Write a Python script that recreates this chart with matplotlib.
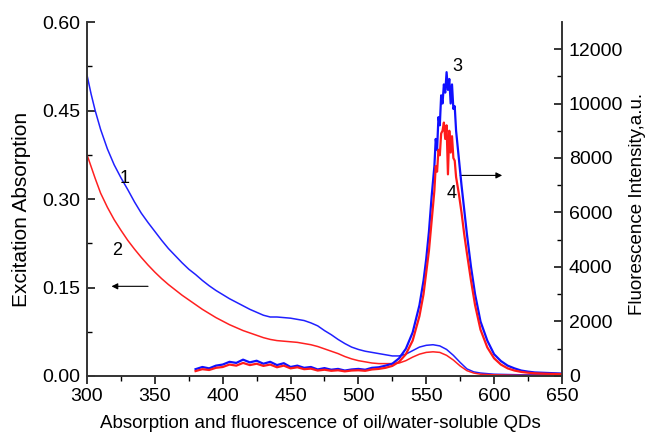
import numpy as np
import matplotlib.pyplot as plt
from matplotlib.ticker import MultipleLocator

plt.rcParams['font.family'] = ['Liberation Sans', 'DejaVu Sans']

#Absorption curves (left axis)
wl_abs = [300, 303, 306, 310, 315, 320, 325, 330, 335, 340, 345, 350, 355, 360, 365, 370,
          375, 380, 385, 390, 395, 400, 405, 410, 415, 420, 425, 430, 435, 440, 445, 450,
          455, 460, 465, 470, 475, 480, 485, 490, 495, 500, 505, 510, 515, 520, 525, 530,
          535, 540, 545, 550, 555, 560, 565, 570, 575, 580, 585, 590, 600, 620, 650]
abs_1 = [0.510, 0.478, 0.450, 0.418, 0.385, 0.358, 0.336, 0.316, 0.295, 0.276, 0.260, 0.245,
         0.230, 0.216, 0.204, 0.192, 0.181, 0.172, 0.162, 0.153, 0.145, 0.138, 0.131, 0.125,
         0.119, 0.113, 0.108, 0.103, 0.100, 0.100, 0.099, 0.098, 0.096, 0.094, 0.090, 0.085,
         0.077, 0.070, 0.062, 0.055, 0.049, 0.045, 0.042, 0.040, 0.038, 0.036, 0.034, 0.034,
         0.037, 0.043, 0.049, 0.052, 0.053, 0.051, 0.045, 0.035, 0.023, 0.012, 0.007, 0.005,
         0.003, 0.002, 0.002]
abs_2 = [0.375, 0.355, 0.335, 0.310, 0.286, 0.265, 0.247, 0.230, 0.215, 0.201, 0.188, 0.176,
         0.165, 0.155, 0.146, 0.137, 0.129, 0.121, 0.113, 0.106, 0.099, 0.093, 0.087, 0.082,
         0.077, 0.073, 0.069, 0.065, 0.062, 0.060, 0.059, 0.058, 0.057, 0.055, 0.053, 0.050,
         0.046, 0.042, 0.038, 0.033, 0.029, 0.026, 0.024, 0.022, 0.021, 0.021, 0.021, 0.022,
         0.026, 0.032, 0.037, 0.040, 0.041, 0.040, 0.035, 0.027, 0.017, 0.009, 0.005, 0.003,
         0.002, 0.001, 0.001]

#Fluorescence curves (right axis)
wl_fl = [380, 385, 390, 395, 400, 405, 410, 415, 420, 425, 430, 435, 440, 445, 450, 455,
         460, 465, 470, 475, 480, 485, 490, 495, 500, 505, 510, 515, 520, 525, 530, 535,
         540, 545, 548, 550, 552, 554, 556, 557, 558, 559, 560, 561, 562, 563, 564, 565,
         566, 567, 568, 569, 570, 571, 572, 574, 576, 578, 580, 583, 586, 590, 595, 600,
         605, 610, 615, 620, 625, 630, 640, 650]
fl_3 = [250, 330, 280, 380, 420, 520, 480, 600, 500, 560, 450, 520, 400, 470, 330, 380,
        300, 330, 240, 290, 230, 260, 200, 240, 260, 230, 300, 320, 380, 450, 650, 1000,
        1600, 2600, 3500, 4300, 5300, 6600, 7700, 8700, 8300, 9500, 9200, 10300, 10000, 10700, 10400, 11150,
        10500, 10900, 10000, 10700, 9800, 9900, 9000, 8000, 7000, 6100, 5200, 4000, 3000, 2000, 1300, 800,
        550, 380, 280, 200, 160, 130, 110, 90]
fl_4 = [180, 250, 220, 300, 330, 420, 380, 480, 400, 450, 370, 420, 320, 380, 280, 320,
        250, 270, 200, 230, 190, 210, 170, 200, 210, 190, 240, 260, 300, 370, 520, 800,
        1300, 2200, 3000, 3800, 4600, 5700, 6800, 7700, 7500, 8300, 8100, 8900, 9000, 9300, 8700, 9200,
        7400, 9000, 8200, 8800, 8000, 7900, 7300, 6700, 6000, 5200, 4500, 3500, 2600, 1700, 1050, 650,
        420, 280, 200, 150, 120, 100, 80, 70]

fig = plt.figure(figsize=(6.47, 4.37), dpi=100)
ax = fig.add_axes([0.1345, 0.1396, 0.734, 0.81])
ax2 = ax.twinx()

ax.plot(wl_abs, abs_1, color='#2020ff', lw=1.1)
ax.plot(wl_abs, abs_2, color='#ff2020', lw=1.1)
ax2.plot(wl_fl, fl_3, color='#1010ff', lw=1.6)
ax2.plot(wl_fl, fl_4, color='#ff1a1a', lw=1.6)

ax.set_xlim(300, 650)
ax.set_ylim(0, 0.60)
ax2.set_ylim(0, 12990)

ax.xaxis.set_major_locator(MultipleLocator(50))
ax.xaxis.set_minor_locator(MultipleLocator(25))
ax.yaxis.set_major_locator(MultipleLocator(0.15))
ax.yaxis.set_minor_locator(MultipleLocator(0.075))
ax2.yaxis.set_major_locator(MultipleLocator(2000))
ax2.yaxis.set_minor_locator(MultipleLocator(1000))
ax.yaxis.set_major_formatter(plt.FormatStrFormatter('%.2f'))

for a in (ax, ax2):
    a.spines['top'].set_visible(False)
    for s in a.spines.values():
        s.set_linewidth(1.2)
        s.set_color('#333333')
ax.tick_params(axis='x', which='major', direction='out', length=6, width=1.1, labelsize=14, pad=3)
ax.tick_params(axis='x', which='minor', direction='out', length=3.5, width=1.0)
ax.tick_params(axis='y', which='major', direction='in', length=6, width=1.1, labelsize=14, pad=5)
ax.tick_params(axis='y', which='minor', direction='in', length=3.5, width=1.0)
ax2.tick_params(axis='y', which='major', direction='in', length=6, width=1.1, labelsize=14, pad=5)
ax2.tick_params(axis='y', which='minor', direction='in', length=3.5, width=1.0)

ax.set_xlabel('Absorption and fluorescence of oil/water-soluble QDs', fontsize=13.5)
ax.set_ylabel('Excitation Absorption', fontsize=15)
ax2.set_ylabel('Fluorescence Intensity,a.u.', fontsize=13.5)
ax.xaxis.set_label_coords(0.492, -0.133)
ax.yaxis.label.set_va('center')
ax.xaxis.label.set_va('center')
ax2.yaxis.label.set_va('center')
ax.yaxis.set_label_coords(-0.137, 0.47)
ax2.yaxis.set_label_coords(1.16, 0.486)

ax.text(328, 0.335, '1', fontsize=13, ha='center', va='center')
ax.text(322, 0.212, '2', fontsize=13, ha='center', va='center')
ax2.text(573, 11350, '3', fontsize=13, ha='center', va='center')
ax2.text(569, 6700, '4', fontsize=13, ha='center', va='center')

ax.annotate('', xy=(316, 0.152), xytext=(347, 0.152),
            arrowprops=dict(arrowstyle='-|>', color='black', lw=0.8, mutation_scale=9))
ax.annotate('', xy=(608, 0.34), xytext=(573, 0.34),
            arrowprops=dict(arrowstyle='-|>', color='black', lw=0.8, mutation_scale=9))

fig.savefig('out.png', dpi=100)
